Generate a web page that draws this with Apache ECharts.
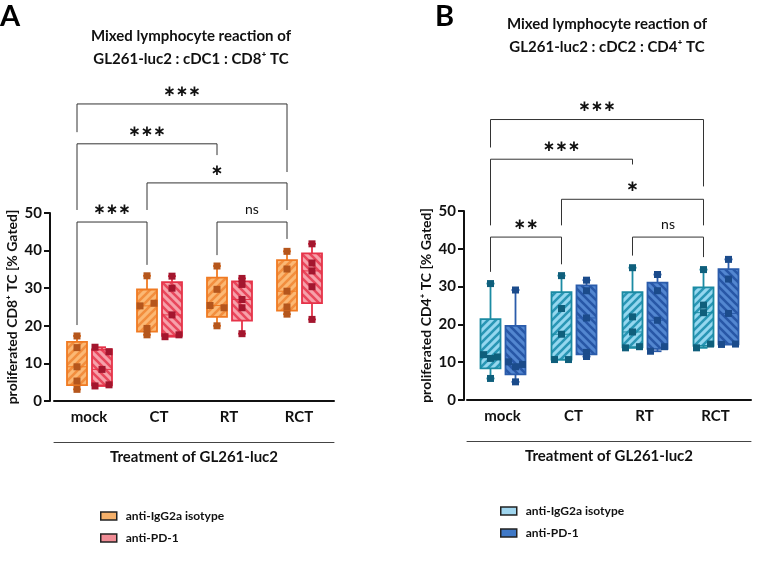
<!DOCTYPE html>
<html>
<head>
<meta charset="utf-8">
<script src="https://cdn.jsdelivr.net/npm/echarts@6/dist/echarts.min.js"></script>
<style>
  html, body { margin: 0; background: #fff; }
  #main { width: 768px; height: 565px; }
</style>
</head>
<body>
<div id="main"></div>
<script>
// categories on the x axis
const cats = ['mock', 'CT', 'RT', 'RCT'];

// panel A: cDC1 : CD8+ TC, one row of replicate values per category
const aIso = [[17.3, 14.2, 9.1, 5.3, 3.1], [33.3, 26.0, 25.3, 19.3, 17.6], [35.9, 29.7, 25.4, 24.8, 20.0], [39.8, 35.1, 29.2, 25.0, 23.1]];
const aPd1 = [[14.3, 13.1, 8.4, 4.0, 4.3], [33.2, 30.0, 22.9, 17.1, 17.6], [32.6, 31.0, 27.0, 24.8, 17.9], [41.8, 36.7, 34.6, 30.4, 21.7]];
// panel B: cDC2 : CD4+ TC
const bIso = [[30.8, 12.0, 11.0, 11.4, 5.7], [32.9, 24.2, 17.4, 10.7, 10.7], [35.0, 22.0, 18.0, 13.8, 14.1], [34.5, 25.1, 23.1, 13.8, 14.8]];
const bPd1 = [[29.1, 10.1, 8.8, 9.4, 4.8], [31.7, 28.9, 21.7, 12.6, 11.5], [33.2, 28.9, 21.1, 12.9, 14.1], [37.2, 32.0, 22.9, 14.7, 14.8]];

// which side a dot was nudged to (-1 left, 0 centre, 1 right)
const aIsoJit = [[0, 0, 0, 0, 0], [0, 1, -1, 0, 0], [0, 0, -1, 1, 0], [0, 0, 0, 0, 0]];
const aPd1Jit = [[-1, 1, 0, -1, 1], [0, 0, 0, -1, 1], [0, 0, 0, 0, 0], [0, 0, 0, 0, 0]];
const bIsoJit = [[0, -1, 0, 1, 0], [0, 0, 0, -1, 1], [0, 0, 0, -1, 1], [0, 0, 0, -1, 1]];
const bPd1Jit = [[0, -1, 0, 1, 0], [0, 0, 0, 0, 0], [0, 0, 0, -1, 1], [0, 0, 0, -1, 1]];

// significance brackets: [fromCat, toCat, barY, leftLegEnd, rightLegEnd, label]
const aSig = [
  [0, 3, 79.0, 71.5, 60.9, '∗∗∗'],
  [0, 2, 68.4, 50.8, 65.4, '∗∗∗'],
  [1, 3, 58.0, 50.8, 50.8, '∗'],
  [0, 1, 47.6, 20.2, 36.2, '∗∗∗'],
  [2, 3, 47.6, 38.8, 43.1, 'ns']
];
const bSig = [
  [0, 3, 74.2, 66.8, 56.5, '∗∗∗'],
  [0, 2, 63.7, 46.2, 62.3, '∗∗∗'],
  [1, 3, 53.1, 46.2, 46.2, '∗'],
  [0, 1, 43.1, 33.9, 35.9, '∗∗'],
  [2, 3, 43.1, 38.2, 37.8, 'ns']
];

const FONT = 'Lato';
const OFF = [-12, 13];   // box centre offset from the tick, px
const BOX_W = 20;
const JIT = 7;

function stripes(bg, fg, dir) {
  const s = 8;
  const c = document.createElement('canvas');
  c.width = c.height = s;
  const g = c.getContext('2d');
  g.fillStyle = bg;
  g.fillRect(0, 0, s, s);
  g.strokeStyle = fg;
  g.lineWidth = 2.6;
  g.beginPath();
  if (dir > 0) {
    g.moveTo(0, s); g.lineTo(s, 0);
    g.moveTo(-s / 2, s / 2); g.lineTo(s / 2, -s / 2);
    g.moveTo(s / 2, s * 1.5); g.lineTo(s * 1.5, s / 2);
  } else {
    g.moveTo(0, 0); g.lineTo(s, s);
    g.moveTo(-s / 2, s / 2); g.lineTo(s / 2, s * 1.5);
    g.moveTo(s / 2, -s / 2); g.lineTo(s * 1.5, s / 2);
  }
  g.stroke();
  return { image: c, repeat: 'repeat' };
}

function quant(s, p) {
  const n = s.length;
  let pos = p * (n + 1);
  if (pos <= 1) return s[0];
  if (pos >= n) return s[n - 1];
  const lo = Math.floor(pos);
  return s[lo - 1] + (pos - lo) * (s[lo] - s[lo - 1]);
}

function boxRows(pts) {
  return pts.map(function (vals, i) {
    const s = vals.slice().sort(function (a, b) { return a - b; });
    return [i, s[0], quant(s, 0.25), quant(s, 0.5), quant(s, 0.75), s[s.length - 1]];
  });
}

function boxSeries(name, gi, pts, off, col) {
  const fill = stripes(col.fill, col.stripe, col.dir);
  return {
    name: name,
    type: 'custom',
    xAxisIndex: gi * 2,
    yAxisIndex: gi,
    z: 2,
    silent: true,
    encode: { x: 0, y: [1, 2, 3, 4, 5] },
    data: boxRows(pts),
    renderItem: function (params, api) {
      const i = api.value(0);
      const cx = api.coord([i, api.value(3)])[0] + off;
      const y = [1, 2, 3, 4, 5].map(function (d) { return api.coord([i, api.value(d)])[1]; });
      const ln = { stroke: col.border, lineWidth: 1.8 };
      return {
        type: 'group',
        children: [
          { type: 'line', shape: { x1: cx, y1: y[4], x2: cx, y2: y[3] }, style: ln },
          { type: 'line', shape: { x1: cx, y1: y[1], x2: cx, y2: y[0] }, style: ln },
          { type: 'line', shape: { x1: cx - 4, y1: y[4], x2: cx + 4, y2: y[4] }, style: ln },
          { type: 'line', shape: { x1: cx - 4, y1: y[0], x2: cx + 4, y2: y[0] }, style: ln },
          { type: 'rect', shape: { x: cx - BOX_W / 2, y: y[3], width: BOX_W, height: y[1] - y[3] },
            style: { fill: fill, stroke: col.border, lineWidth: 1.8 } },
          { type: 'line', shape: { x1: cx - BOX_W / 2, y1: y[2], x2: cx + BOX_W / 2, y2: y[2] },
            style: { stroke: col.border, lineWidth: 1 } }
        ]
      };
    }
  };
}

function dotSeries(name, gi, pts, jit, off, color) {
  const data = [];
  pts.forEach(function (vals, i) {
    vals.forEach(function (v, k) {
      data.push({ value: [i, v], symbolOffset: [off + jit[i][k] * JIT, 0] });
    });
  });
  return {
    name: name,
    type: 'scatter',
    xAxisIndex: gi * 2,
    yAxisIndex: gi,
    z: 4,
    silent: true,
    symbol: 'rect',
    symbolSize: 7,
    itemStyle: { color: color, opacity: 1 },
    data: data
  };
}

function sigSeries(gi, sig) {
  return {
    type: 'custom',
    xAxisIndex: gi * 2,
    yAxisIndex: gi,
    clip: false,
    silent: true,
    z: 5,
    encode: { x: 0, y: 1 },
    data: sig.map(function (b) { return [b[0], b[2]]; }),
    renderItem: function (params, api) {
      const b = sig[params.dataIndex];
      const y = api.coord([b[0], b[2]])[1];
      const x1 = api.coord([b[0], b[2]])[0] + OFF[0];
      const x2 = api.coord([b[1], b[2]])[0] + OFF[0];
      const yl = api.coord([b[0], b[3]])[1];
      const yr = api.coord([b[1], b[4]])[1];
      const isNs = b[5] === 'ns';
      return {
        type: 'group',
        children: [
          { type: 'polyline', shape: { points: [[x1, yl], [x1, y], [x2, y], [x2, yr]] },
            style: { stroke: '#333', lineWidth: 1, fill: null } },
          { type: 'text', x: (x1 + x2) / 2, y: y - (isNs ? 13 : 12),
            style: { text: b[5], textAlign: 'center', textVerticalAlign: 'middle', fill: '#111',
              font: isNs ? '14px ' + FONT : 'bold 15px "DejaVu Sans"' } }
        ]
      };
    }
  };
}

const colA = [
  { fill: '#fbb874', stripe: '#f28e3e', border: '#f07a22', dot: '#b5561c', dir: 1 },
  { fill: '#f6a1aa', stripe: '#e8475c', border: '#e63349', dot: '#a3162e', dir: -1 }
];
const colB = [
  { fill: '#94d7ef', stripe: '#2996b5', border: '#1b8ba3', dot: '#0f5f7c', dir: 1 },
  { fill: '#5286d0', stripe: '#2857a6', border: '#2b5cab', dot: '#1b4b8b', dir: -1 }
];

const ISO = 'anti-IgG2a isotype';
const PD1 = 'anti-PD-1';

function xAxes(gi) {
  return [
    {
      gridIndex: gi, type: 'category', data: cats,
      axisLine: { lineStyle: { color: '#111', width: 2 } },
      axisTick: { alignWithLabel: true, length: 6, lineStyle: { width: 2, color: '#111' } },
      axisLabel: { color: '#111', fontFamily: FONT, fontWeight: 'bold', fontSize: 15, margin: 9 }
    },
    {
      gridIndex: gi, type: 'category', data: cats, position: 'bottom', offset: 41,
      axisLine: { lineStyle: { color: '#444', width: 1 } },
      axisTick: { show: false }, axisLabel: { show: false },
      name: 'Treatment of GL261-luc2', nameLocation: 'middle', nameGap: 8,
      nameTextStyle: { color: '#111', fontFamily: FONT, fontWeight: 'bold', fontSize: 15 }
    }
  ];
}

function yAxis(gi, name, off) {
  return {
    gridIndex: gi, type: 'value', min: 0, max: 50, interval: 10, offset: off,
    axisLine: { show: true, lineStyle: { color: '#111', width: 2 } },
    axisTick: { show: true, length: 6, lineStyle: { width: 2, color: '#111' } },
    splitLine: { show: false },
    axisLabel: { color: '#111', fontFamily: FONT, fontWeight: 'bold', fontSize: 15, margin: 8 },
    name: name, nameLocation: 'middle', nameGap: 31,
    nameTextStyle: { color: '#111', fontFamily: FONT, fontWeight: 'bold', fontSize: 14 }
  };
}

function legendBlock(left, top, c0, c1) {
  return {
    left: left, top: top, orient: 'vertical', itemWidth: 16, itemHeight: 8, itemGap: 10,
    selectedMode: false,
    textStyle: { color: '#111', fontFamily: FONT, fontWeight: 'bold', fontSize: 12, padding: [0, 0, 0, 4] },
    data: [
      { name: ISO, icon: 'rect', itemStyle: { color: c0, borderColor: '#222', borderWidth: 1.5, decal: 'none' } },
      { name: PD1, icon: 'rect', itemStyle: { color: c1, borderColor: '#222', borderWidth: 1.5, decal: 'none' } }
    ]
  };
}

function titleText(x, y, lines) {
  return {
    type: 'text', x: x, y: y,
    style: { text: lines, textAlign: 'center', textVerticalAlign: 'top', fill: '#111',
      font: 'bold 15px ' + FONT, lineHeight: 23 }
  };
}

const chart = echarts.init(document.getElementById('main'));
chart.setOption({
  animation: false,
  backgroundColor: '#fff',
  grid: [
    { left: 54, right: 434, top: 213, bottom: 164 },
    { left: 467, right: 17, top: 211, bottom: 165 }
  ],
  xAxis: xAxes(0).concat(xAxes(1)),
  yAxis: [
    yAxis(0, 'proliferated CD8⁺ TC [% Gated]', 4),
    yAxis(1, 'proliferated CD4⁺ TC [% Gated]', 3)
  ],
  legend: [
    legendBlock(95, 505, '#f5b06a', '#f08c95'),
    legendBlock(495, 500, '#9fd5ee', '#3f78c6')
  ],
  graphic: [
    { type: 'text', x: 0, y: 2, style: { text: 'A', font: 'bold 29px ' + FONT, fill: '#000' } },
    { type: 'text', x: 435, y: 2, style: { text: 'B', font: 'bold 29px ' + FONT, fill: '#000' } },
    titleText(191, 25, 'Mixed lymphocyte reaction of\nGL261-luc2 : cDC1 : CD8⁺ TC'),
    titleText(607, 13, 'Mixed lymphocyte reaction of\nGL261-luc2 : cDC2 : CD4⁺ TC')
  ],
  series: [
    boxSeries(ISO, 0, aIso, OFF[0], colA[0]),
    boxSeries(PD1, 0, aPd1, OFF[1], colA[1]),
    dotSeries(ISO, 0, aIso, aIsoJit, OFF[0], colA[0].dot),
    dotSeries(PD1, 0, aPd1, aPd1Jit, OFF[1], colA[1].dot),
    sigSeries(0, aSig),
    boxSeries(ISO, 1, bIso, OFF[0], colB[0]),
    boxSeries(PD1, 1, bPd1, OFF[1], colB[1]),
    dotSeries(ISO, 1, bIso, bIsoJit, OFF[0], colB[0].dot),
    dotSeries(PD1, 1, bPd1, bPd1Jit, OFF[1], colB[1].dot),
    sigSeries(1, bSig)
  ]
});
</script>
</body>
</html>
